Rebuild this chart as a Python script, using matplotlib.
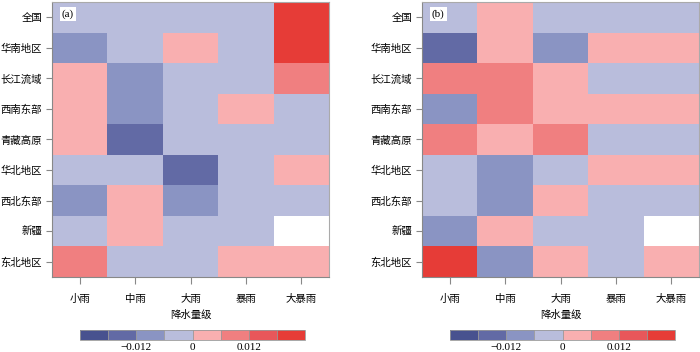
import numpy as np
import matplotlib
matplotlib.use('Agg')
import matplotlib.pyplot as plt
from matplotlib.colors import ListedColormap, BoundaryNorm

plt.rcParams['font.family'] = ['Noto Sans CJK SC', 'DejaVu Sans']

regions = ['全国', '华南地区', '长江流域', '西南东部', '青藏高原', '华北地区', '西北东部', '新疆', '东北地区']
grades = ['小雨', '中雨', '大雨', '暴雨', '大暴雨']

# values (bin centres of the discrete colour scale)
vals_a = [
    [-0.003, -0.003, -0.003, -0.003, 0.021],
    [-0.009, -0.003, 0.003, -0.003, 0.021],
    [0.003, -0.009, -0.003, -0.003, 0.009],
    [0.003, -0.009, -0.003, 0.003, -0.003],
    [0.003, -0.015, -0.003, -0.003, -0.003],
    [-0.003, -0.003, -0.015, -0.003, 0.003],
    [-0.009, 0.003, -0.009, -0.003, -0.003],
    [-0.003, 0.003, -0.003, -0.003, np.nan],
    [0.009, -0.003, -0.003, 0.003, 0.003],
]
vals_b = [
    [-0.003, 0.003, -0.003, -0.003, -0.003],
    [-0.015, 0.003, -0.009, 0.003, 0.003],
    [0.009, 0.009, 0.003, -0.003, -0.003],
    [-0.009, 0.009, 0.003, 0.003, 0.003],
    [0.009, 0.003, 0.009, -0.003, -0.003],
    [-0.003, -0.009, -0.003, 0.003, 0.003],
    [-0.003, -0.009, 0.003, -0.003, -0.003],
    [-0.009, 0.003, -0.003, -0.003, np.nan],
    [0.021, -0.009, 0.003, -0.003, 0.003],
]

bounds = [-0.024, -0.018, -0.012, -0.006, 0, 0.006, 0.012, 0.018, 0.024]
cols = ['#48528f', '#626aa5', '#8a94c3', '#b9bddc', '#f9afb0', '#f07f80', '#e8575a', '#e63c37']
cmap = ListedColormap(cols)
cmap.set_bad('white')
norm = BoundaryNorm(bounds, cmap.N)

fig = plt.figure(figsize=(7, 3.52), dpi=100)

panels = [(vals_a, '(a)', 0.0743, 0.1143), (vals_b, '(b)', 0.6029, 0.6429)]
for data, lab, x0, cx0 in panels:
    ax = fig.add_axes([x0, 0.2131, 0.3957, 0.7812])
    arr = np.ma.masked_invalid(np.array(data, dtype=float))
    im = ax.pcolormesh(np.arange(6) - 0.5, np.arange(10) - 0.5, arr, cmap=cmap, norm=norm)
    ax.set_xlim(-0.5, 4.5)
    ax.set_ylim(8.5, -0.5)
    ax.set_xticks(range(5))
    ax.set_xticklabels(grades, fontsize=7.5)
    ax.set_yticks(range(9))
    ax.set_yticklabels(regions, fontsize=7.5)
    ax.tick_params(axis='y', length=4.5, color='#888888', pad=2.5)
    ax.tick_params(axis='x', length=5, color='#888888', pad=7)
    for s in ax.spines.values():
        s.set_color('#aaaaaa')
    ax.spines['left'].set_color('#888888')
    ax.spines['bottom'].set_color('#888888')
    ax.set_xlabel('降水量级', fontsize=7.5, labelpad=4)
    ax.text(0.035, 0.955, lab, transform=ax.transAxes, fontsize=8, va='center', ha='left',
            family=['Liberation Serif', 'DejaVu Serif'],
            bbox=dict(facecolor='white', edgecolor='none', pad=1.5))

    cax = fig.add_axes([cx0, 0.0341, 0.3214, 0.0284])
    cb = fig.colorbar(im, cax=cax, orientation='horizontal', ticks=[-0.012, 0, 0.012])
    cb.set_ticklabels(['\u22120.012', '0', '0.012'])
    cb.ax.minorticks_off()
    cb.ax.tick_params(which='both', length=0, labelsize=8, pad=2)
    for t in cb.ax.get_xticklabels():
        t.set_family(['Liberation Serif', 'DejaVu Serif'])
    cb.outline.set_edgecolor('#999999')
    cb.outline.set_linewidth(0.6)
    for b in bounds[1:-1]:
        cax.axvline(b, color='#999999', lw=0.6)

fig.savefig('out.png', dpi=100)
